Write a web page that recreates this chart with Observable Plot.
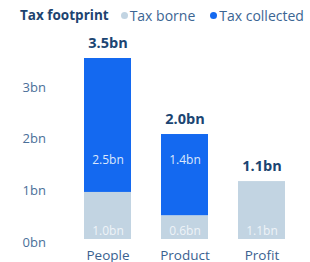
<!DOCTYPE html>
<html><head><meta charset="utf-8">
<script src="https://cdn.jsdelivr.net/npm/d3@7"></script>
<script src="https://cdn.jsdelivr.net/npm/@observablehq/plot@0.6"></script>
<style>
body{margin:0;background:#fff;font-family:"Open Sans",sans-serif;}
#legend{height:30px;display:flex;align-items:center;padding-left:20px;font-size:14px;color:#3b6593;white-space:nowrap;}
#legend b{color:#1d4370;margin-right:12px;font-size:13.5px;}
#legend .dot{display:inline-block;width:7px;height:7px;border-radius:50%;margin-right:2px;}
#legend .item{margin-right:15px;display:flex;align-items:center;}
</style>
</head><body>
<div id="legend"></div>
<div id="chart"></div>
<script>
const categories = ["People", "Product", "Profit"];
const taxBorne = [0.91, 0.46, 1.12];
const taxCollected = [2.59, 1.57, 0];
const borneLabels = ["1.0bn", "0.6bn", "1.1bn"];
const collectedLabels = ["2.5bn", "1.4bn", ""];
const totalLabels = ["3.5bn", "2.0bn", "1.1bn"];
const yTicks = [0, 1, 2, 3];
const yTickLabels = ["0bn", "1bn", "2bn", "3bn"];
const seriesNames = ["Tax borne", "Tax collected"];
const seriesColors = ["#c2d4e2", "#1469f0"];

const legend = document.getElementById("legend");
legend.innerHTML = `<b>Tax footprint</b>` + seriesNames.map((s, i) =>
  `<span class="item"><span class="dot" style="background:${seriesColors[i]}"></span>${s}</span>`).join("");

const rows = [];
categories.forEach((c, i) => {
  rows.push({cat: c, series: seriesNames[0], value: taxBorne[i]});
  rows.push({cat: c, series: seriesNames[1], value: taxCollected[i]});
});
const totals = categories.map((c, i) => ({cat: c, total: taxBorne[i] + taxCollected[i], label: totalLabels[i]}));

const chart = Plot.plot({
  width: 310,
  height: 232,
  marginLeft: 69,
  marginRight: 10,
  marginTop: 28,
  marginBottom: 23,
  style: {fontFamily: "Open Sans, sans-serif", background: "#fff"},
  x: {domain: categories, paddingInner: 0.39, paddingOuter: 0.195, axis: null},
  y: {domain: [0, 3.5], axis: null},
  color: {domain: seriesNames, range: seriesColors},
  marks: [
    Plot.barY(rows, Plot.stackY({x: "cat", y: "value", fill: "series", order: seriesNames})),
    Plot.text(yTicks, {y: d => d, text: (d, i) => yTickLabels[i], frameAnchor: "left", dx: -47, dy: 3, textAnchor: "start", fill: "#4a6f99", fontSize: 13}),
    Plot.text(categories, {x: d => d, text: d => d, frameAnchor: "bottom", dy: 20, fill: "#3a6190", fontSize: 13.5}),
    Plot.text(categories, {x: d => d, text: (d, i) => borneLabels[i], frameAnchor: "bottom", dy: -5, fill: "#eef3f8", fontSize: 12}),
    Plot.text(categories, {x: d => d, text: (d, i) => collectedLabels[i], frameAnchor: "bottom", dy: -76, fill: "#dce7fc", fontSize: 12}),
    Plot.text(totals, {x: "cat", y: "total", text: "label", dy: -15, fill: "#1b4572", fontSize: 14.5, fontWeight: "bold"})
  ]
});
document.getElementById("chart").append(chart);
</script>
</body></html>
